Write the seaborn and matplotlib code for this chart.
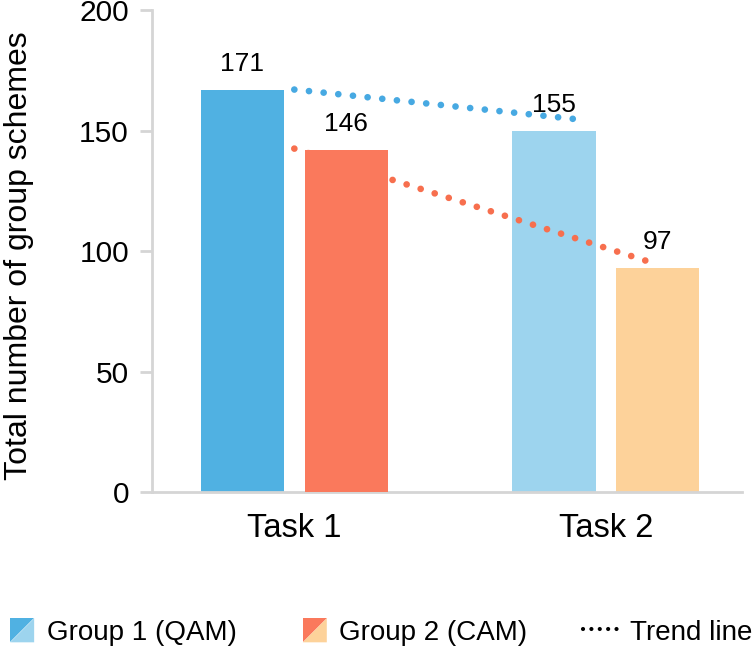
import pandas as pd
import matplotlib
matplotlib.use('Agg')
import matplotlib.pyplot as plt
import seaborn as sns
from matplotlib.legend_handler import HandlerBase
from matplotlib.patches import Polygon, Patch
from matplotlib.lines import Line2D

# Data
tasks = ['Task 1', 'Task 2']
groups = ['Group 1 (QAM)', 'Group 2 (CAM)']
bar_heights = {'Group 1 (QAM)': [167, 150], 'Group 2 (CAM)': [142, 93]}
bar_labels = {'Group 1 (QAM)': ['171', '155'], 'Group 2 (CAM)': ['146', '97']}
trend_g1_x = [0.0, 0.92]
trend_g1_y = [167, 154.5]
trend_g2_x = [0.0, 1.14]
trend_g2_y = [142.5, 95.5]

# colours: (task 1, task 2) per group
colors = {'Group 1 (QAM)': ['#50B1E2', '#9DD4EE'],
          'Group 2 (CAM)': ['#FA795C', '#FDD29A']}
trend_colors = {'Group 1 (QAM)': '#47A9E2', 'Group 2 (CAM)': '#F76F4E'}
spine_color = '#D5D5D5'

df = pd.DataFrame([(t, g, bar_heights[g][i], bar_labels[g][i])
                   for g in groups for i, t in enumerate(tasks)],
                  columns=['task', 'group', 'count', 'label'])

sns.set_style('white')
plt.rcParams['font.family'] = ['Liberation Sans', 'DejaVu Sans']
plt.rcParams['text.color'] = 'black'
plt.rcParams['xtick.labelcolor'] = 'black'
plt.rcParams['ytick.labelcolor'] = 'black'

fig = plt.figure(figsize=(7.52, 6.51), dpi=100)
ax = fig.add_axes([0.202, 0.2442, 0.785, 0.7404])

sns.barplot(data=df, x='task', y='count', hue='group', hue_order=groups,
            order=tasks, palette=[colors[g][0] for g in groups],
            width=0.667, gap=0.2, legend=False, ax=ax)

# recolour per task and put labels on top
bars = sorted(ax.patches, key=lambda p: p.get_x())
order = df.sort_values(['task', 'group']).reset_index(drop=True)
for p, (_, row) in zip(bars, order.iterrows()):
    ti = tasks.index(row['task'])
    p.set_facecolor(colors[row['group']][ti])
    p.set_edgecolor('none')
    p.set_zorder(3 if (row['group'] == groups[1] and ti == 0) else 1)
    ax.annotate(row['label'], (p.get_x() + p.get_width() / 2, p.get_height()),
                xytext=(0, 10), textcoords='offset points',
                ha='center', va='bottom', fontsize=19, color='black', zorder=4)

# trend lines
for xs, ys, g in [(trend_g1_x, trend_g1_y, groups[0]), (trend_g2_x, trend_g2_y, groups[1])]:
    ax.plot(xs, ys, color=trend_colors[g], lw=4.8, linestyle=(0, (0.01, 2.2)),
            dash_capstyle='round', zorder=2)

ax.set_ylim(0, 200)
ax.set_xlim(-0.457, 1.4375)
ax.set_yticks([0, 50, 100, 150, 200])
ax.set_xticks([0, 1])
ax.set_xticks([0.5, 1.4375], minor=True)
ax.tick_params(axis='x', which='major', length=0, pad=15, labelsize=23.5)
ax.tick_params(axis='x', which='minor', length=8, width=2, color=spine_color, direction='out')
ax.tick_params(axis='y', length=8.5, width=2, color=spine_color, pad=8, labelsize=21.5, left=True)
ax.set_xlabel('')
ax.set_ylabel('Total number of group schemes', fontsize=23, color='black')
ax.yaxis.set_label_coords(-0.2, 0.49)
for s in ['top', 'right']:
    ax.spines[s].set_visible(False)
for s in ['left', 'bottom']:
    ax.spines[s].set_color(spine_color)
    ax.spines[s].set_linewidth(2)


class SplitSquare(HandlerBase):
    def __init__(self, c1, c2):
        super().__init__()
        self.c1, self.c2 = c1, c2

    def create_artists(self, legend, orig_handle, xdescent, ydescent,
                       width, height, fontsize, trans):
        s = height
        x1 = -xdescent + width
        x0 = x1 - s
        y0 = -ydescent + (height - s) / 2
        y1 = y0 + s
        a = Polygon([(x0, y0), (x0, y1), (x1, y1)], closed=True,
                    facecolor=self.c1, edgecolor='none', transform=trans)
        b = Polygon([(x0, y0), (x1, y1), (x1, y0)], closed=True,
                    facecolor=self.c2, edgecolor='none', transform=trans)
        return [a, b]


h1 = Patch(label=groups[0])
h2 = Patch(label=groups[1])
h3 = Line2D([], [], color='black', lw=3, linestyle=(0, (0.01, 2.0)),
            dash_capstyle='round', label='Trend line')
fig.legend(handles=[h1, h2, h3], loc='center', bbox_to_anchor=(0.5, 0.029),
           ncol=3, frameon=False, fontsize=20, handlelength=1.25,
           handleheight=0.95, handletextpad=0.45, columnspacing=2.0,
           borderpad=0, borderaxespad=0,
           handler_map={h1: SplitSquare(colors[groups[0]][0], colors[groups[0]][1]),
                        h2: SplitSquare(colors[groups[1]][0], colors[groups[1]][1])})

fig.savefig('out.png', dpi=100)
